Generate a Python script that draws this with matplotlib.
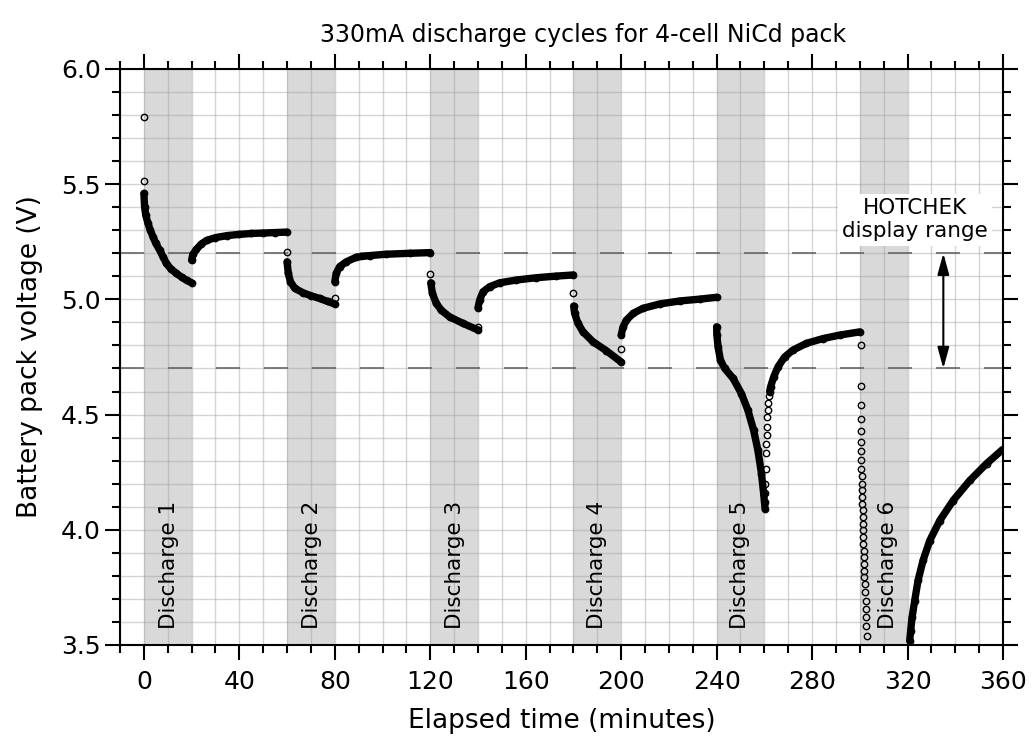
## 330 mA discharge / recovery log of a 4-cell NiCd pack
## values

import numpy as np
import matplotlib
matplotlib.use('Agg')
import matplotlib.pyplot as plt
from matplotlib.ticker import MultipleLocator

plt.rcParams['font.family'] = ['DejaVu Sans']

## ------------ data ----------------------
discharge_start = [0, 60, 120, 180, 240, 300]   ## minutes
discharge_len = 20
discharge_names = ['Discharge 1', 'Discharge 2', 'Discharge 3',
                   'Discharge 4', 'Discharge 5', 'Discharge 6']
hotchek_lo, hotchek_hi = 4.7, 5.2               ## V

## dense stretches (samples overlap into a solid chain)
d1_t = [0, 0.3, 0.8, 1.7, 2.7, 3.8, 5.0, 6.6, 8.0, 9.4, 11.2, 13.6, 16.0, 18.0, 20.0]
d1_v = [5.46, 5.40, 5.365, 5.33, 5.30, 5.272, 5.243, 5.214, 5.185, 5.157, 5.133, 5.113, 5.095, 5.082, 5.072]
r1_t = [20.0, 20.5, 22.0, 24.0, 26.3, 30.0, 35.0, 40.0, 45.0, 50.0, 55.0, 60.0]
r1_v = [5.17, 5.195, 5.217, 5.240, 5.256, 5.268, 5.277, 5.282, 5.286, 5.288, 5.290, 5.292]

d2_t = [60.0, 60.5, 61.4, 63.2, 66.6, 70.0, 73.6, 77.0, 80.0]
d2_v = [5.163, 5.113, 5.077, 5.048, 5.029, 5.016, 5.004, 4.991, 4.980]
r2_t = [80.0, 80.6, 82.0, 84.8, 89.0, 94.6, 101.6, 111.4, 120.0]
r2_v = [5.077, 5.113, 5.142, 5.163, 5.183, 5.190, 5.196, 5.200, 5.203]

d3_t = [120.2, 120.9, 122.5, 124.6, 128.1, 133.7, 140.0]
d3_v = [5.072, 5.026, 4.983, 4.953, 4.924, 4.896, 4.867]
r3_t = [140.0, 140.7, 142.1, 144.9, 149.1, 156.1, 164.5, 172.8, 180.0]
r3_v = [4.963, 4.997, 5.033, 5.055, 5.072, 5.084, 5.094, 5.101, 5.106]

d4_t = [180.1, 180.5, 181.9, 184.0, 188.2, 193.8, 200.0]
d4_v = [4.971, 4.939, 4.896, 4.859, 4.816, 4.777, 4.728]
r4_t = [200.0, 200.8, 202.2, 205.0, 209.1, 216.1, 224.5, 232.9, 240.0]
r4_v = [4.845, 4.881, 4.910, 4.939, 4.961, 4.980, 4.993, 5.001, 5.009]

d5_t = [240.0, 240.1, 240.6, 241.6, 243.4, 246.9, 250.4, 253.1, 255.5, 257.3, 258.8, 259.7, 260.3]
d5_v = [4.881, 4.845, 4.794, 4.736, 4.700, 4.657, 4.591, 4.519, 4.432, 4.345, 4.243, 4.157, 4.091]
r5_t = [262.2, 262.6, 263.9, 265.7, 268.5, 272.0, 277.6, 284.6, 291.6, 300.0]
r5_v = [4.60, 4.620, 4.663, 4.707, 4.750, 4.780, 4.809, 4.830, 4.845, 4.859]

r6_t = [320.9, 321.3, 321.9, 323.0, 324.4, 326.5, 329.3, 333.5, 339.1, 346.1, 353.1, 359.8]
r6_v = [3.518, 3.562, 3.620, 3.693, 3.780, 3.867, 3.953, 4.040, 4.127, 4.214, 4.287, 4.348]

## isolated samples (first point of each phase, fast transitions)
lone_t = [0, 0, 60, 80, 120, 140, 180, 200]
lone_v = [5.79, 5.515, 5.205, 5.004, 5.11, 4.881, 5.026, 4.784]

r5_lone_t = [260.4, 260.4, 260.4, 260.5, 260.6, 260.8, 260.9, 261.1, 261.3, 261.5, 261.7, 261.9]
r5_lone_v = [4.12, 4.16, 4.20, 4.265, 4.333, 4.374, 4.41, 4.446, 4.49, 4.52, 4.55, 4.58]

d6_t = [300.3, 300.3, 300.4, 300.4, 300.5, 300.5, 300.6, 300.6, 300.7, 300.8,
        300.9, 301.0, 301.1, 301.1, 301.2, 301.3, 301.3, 301.4, 301.5, 301.5,
        301.6, 301.7, 301.7, 301.8, 301.9, 302.0, 302.2, 302.4, 302.5, 302.7,
        302.8, 303.0]
d6_v = [4.801, 4.623, 4.540, 4.480, 4.427, 4.381, 4.340, 4.301, 4.265, 4.232,
        4.200, 4.171, 4.142, 4.113, 4.084, 4.055, 4.026, 3.997, 3.968, 3.939,
        3.910, 3.881, 3.852, 3.823, 3.794, 3.765, 3.729, 3.693, 3.656, 3.620,
        3.584, 3.540]
## ----------------------------------------

label_x = [10.5, 70.3, 130.2, 189.9, 249.8, 311.9]

fig = plt.figure(figsize=(10.32, 7.44), dpi=100)
ax = fig.add_axes([0.1163, 0.1331, 0.8556, 0.7742])

ax.set_xlim(-10, 360)
ax.set_ylim(3.5, 6.0)

for t0 in discharge_start:
    ax.axvspan(t0, t0 + discharge_len, color='#d9d9d9', lw=0, zorder=0.2)

ax.xaxis.set_major_locator(MultipleLocator(40))
ax.xaxis.set_minor_locator(MultipleLocator(10))
ax.yaxis.set_major_locator(MultipleLocator(0.5))
ax.yaxis.set_minor_locator(MultipleLocator(0.1))
ax.set_axisbelow(True)
ax.grid(which='both', color='#a0a0a0', alpha=0.45, lw=1.0)

for lvl in [hotchek_lo, hotchek_hi]:
    ax.axhline(lvl, color='#666666', lw=1.2, dashes=(14.4, 14.4), zorder=1.5)

mk = dict(marker='o', ms=4.6, mfc='none', mec='k', mew=1.0)
dense = [(d1_t, d1_v), (r1_t, r1_v), (d2_t, d2_v), (r2_t, r2_v),
         (d3_t, d3_v), (r3_t, r3_v), (d4_t, d4_v), (r4_t, r4_v),
         (d5_t, d5_v), (r5_t, r5_v), (r6_t, r6_v)]
for tt, vv in dense:
    ax.plot(tt, vv, color='k', lw=5.3, solid_capstyle='round',
            solid_joinstyle='round', zorder=3, **mk)
for tt, vv in [(lone_t, lone_v), (r5_lone_t, r5_lone_v), (d6_t, d6_v)]:
    ax.plot(tt, vv, ls='none', zorder=3, **mk)

for x, name in zip(label_x, discharge_names):
    ax.text(x, 3.57, name, rotation=90, ha='center', va='bottom', fontsize=15.5, zorder=4)

ax.text(323, 5.345, 'HOTCHEK\ndisplay range', ha='center', va='center',
        fontsize=15.5, linespacing=1.2, zorder=4,
        bbox=dict(facecolor='white', edgecolor='none', pad=3))
ax.annotate('', xy=(335, hotchek_hi), xytext=(335, hotchek_lo),
            arrowprops=dict(arrowstyle='<|-|>,head_length=0.8,head_width=0.22',
                            color='k', lw=1.5, mutation_scale=16,
                            shrinkA=0, shrinkB=0), zorder=4)

for sp in ax.spines.values():
    sp.set_linewidth(1.5)
ax.tick_params(which='both', direction='out', top=True, right=True, width=1.5,
               labelsize=18)
ax.tick_params(which='major', length=10.8)
ax.tick_params(which='minor', length=5.8)
ax.tick_params(axis='x', which='major', pad=7)
ax.tick_params(axis='y', which='major', pad=3)
ax.yaxis.set_major_formatter(plt.FormatStrFormatter('%.1f'))

ax.set_xlabel('Elapsed time (minutes)', fontsize=19, labelpad=10)
ax.set_ylabel('Battery pack voltage (V)', fontsize=19, labelpad=13)
ax.text(0.524, 1.038, '330mA discharge cycles for 4-cell NiCd pack',
        transform=ax.transAxes, ha='center', va='bottom', fontsize=17)

fig.savefig('out.png', dpi=100)
